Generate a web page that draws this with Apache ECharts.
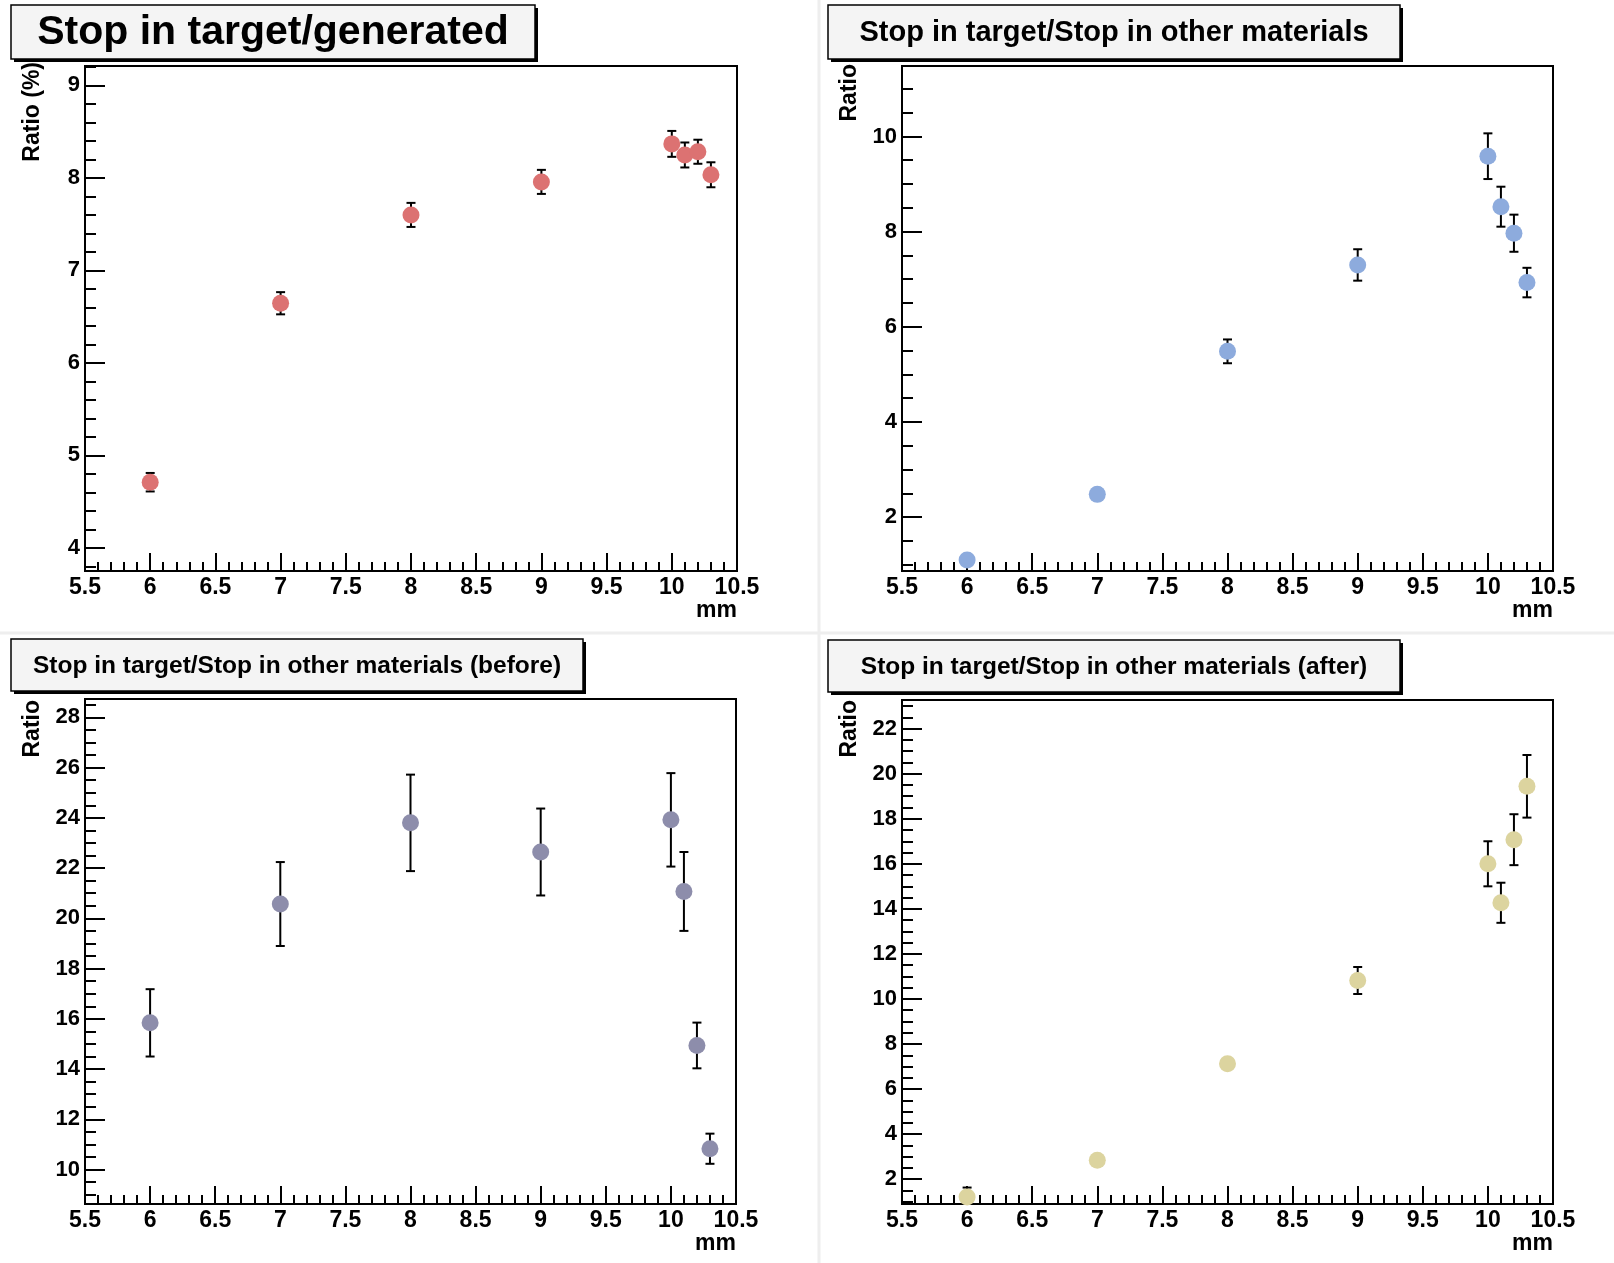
<!DOCTYPE html>
<html>
<head>
<meta charset="utf-8">
<title>Stopping ratios vs. thickness</title>
<script src="https://cdn.jsdelivr.net/npm/echarts@6/dist/echarts.min.js"></script>
<style>
  html, body { margin: 0; padding: 0; background: #ffffff; }
  #main { width: 1614px; height: 1263px; }
</style>
</head>
<body>
<div id="main"></div>
<script>
// ---- data -------------------------------------------------------------
// Thickness (mm) of each measurement
const thicknessMM = [6, 7, 8, 9, 10, 10.1, 10.2, 10.3];

// Stop in target / generated (%)
const ratioGenerated    = [4.71, 6.645, 7.60, 7.957, 8.368, 8.248, 8.283, 8.034];
const ratioGeneratedErr = [0.10, 0.12, 0.13, 0.13, 0.14, 0.135, 0.13, 0.135];

// Stop in target / stop in other materials
const ratioOther    = [1.10, 2.48, 5.485, 7.30, 9.585, 8.524, 7.967, 6.93];
const ratioOtherErr = [0.06, 0.12, 0.25, 0.33, 0.48, 0.42, 0.39, 0.31];

// Stop in target / stop in other materials (before)
const ratioBefore    = [15.84, 20.57, 23.80, 22.64, 23.92, 21.07, 14.94, 10.83];
const ratioBeforeErr = [1.34, 1.67, 1.92, 1.73, 1.86, 1.57, 0.91, 0.60];

// Stop in target / stop in other materials (after)
const ratioAfter    = [1.21, 2.84, 7.13, 10.82, 16.0, 14.27, 17.07, 19.44];
const ratioAfterErr = [0.42, 0.20, 0.20, 0.60, 1.00, 0.89, 1.13, 1.39];

// Labelled y ticks of each pad
const yTicksGenerated = [4, 5, 6, 7, 8, 9];
const yTicksOther     = [2, 4, 6, 8, 10];
const yTicksBefore    = [10, 12, 14, 16, 18, 20, 22, 24, 26, 28];
const yTicksAfter     = [2, 4, 6, 8, 10, 12, 14, 16, 18, 20, 22];

// ---- helpers ----------------------------------------------------------
const FONT = '"Liberation Sans", Arial, Helvetica, sans-serif';

// minor tick positions between lo and hi, skipping the labelled ones
function minorTicks(lo, hi, step, majors) {
  const out = [];
  const n = Math.floor((hi - lo) / step + 1e-6);
  for (let k = 0; k <= n; k++) {
    const v = +(lo + k * step).toFixed(4);
    if (!majors.some(m => Math.abs(m - v) < 1e-6)) out.push(v);
  }
  return out;
}

// vertical error bar with end caps, clipped to the frame
function renderErrorBar(params, api) {
  const x = api.value(0), y = api.value(1), e = api.value(2);
  const top = api.coord([x, y + e]);
  const bot = api.coord([x, y - e]);
  const cs = params.coordSys;
  const yMinPx = cs.y, yMaxPx = cs.y + cs.height;
  const y1 = Math.max(top[1], yMinPx), y2 = Math.min(bot[1], yMaxPx);
  const half = 4.5;
  const style = { stroke: '#000', lineWidth: 2 };
  const children = [
    { type: 'line', shape: { x1: top[0], y1: y1, x2: top[0], y2: y2 }, style: style }
  ];
  if (top[1] >= yMinPx) {
    children.push({ type: 'line', shape: { x1: top[0] - half, y1: top[1], x2: top[0] + half, y2: top[1] }, style: style });
  }
  if (bot[1] <= yMaxPx) {
    children.push({ type: 'line', shape: { x1: bot[0] - half, y1: bot[1], x2: bot[0] + half, y2: bot[1] }, style: style });
  }
  return { type: 'group', children: children };
}

// ---- pads -------------------------------------------------------------
const pads = [
  {
    title: 'Stop in target/generated', titleSize: 41,
    box: { x: 11, y: 5, w: 524, h: 54 },
    yName: 'Ratio (%)', yNameX: 33, yNameTop: 62,
    grid: { left: 85, top: 66, width: 652, height: 505 },
    yMin: 3.75, yMax: 9.21, majors: yTicksGenerated, minorStep: 0.2,
    values: ratioGenerated, errors: ratioGeneratedErr, color: '#dc7272'
  },
  {
    title: 'Stop in target/Stop in other materials', titleSize: 29,
    box: { x: 828, y: 5, w: 572, h: 54 },
    yName: 'Ratio', yNameX: 850, yNameTop: 64,
    grid: { left: 902, top: 66, width: 651, height: 505 },
    yMin: 0.87, yMax: 11.48, majors: yTicksOther, minorStep: 0.5,
    values: ratioOther, errors: ratioOtherErr, color: '#8dabdd'
  },
  {
    title: 'Stop in target/Stop in other materials (before)', titleSize: 24.5,
    box: { x: 11, y: 639, w: 572, h: 52 },
    yName: 'Ratio', yNameX: 33, yNameTop: 700,
    grid: { left: 85, top: 699, width: 651, height: 505 },
    yMin: 8.63, yMax: 28.73, majors: yTicksBefore, minorStep: 0.5,
    values: ratioBefore, errors: ratioBeforeErr, color: '#8d8dab'
  },
  {
    title: 'Stop in target/Stop in other materials (after)', titleSize: 24.5,
    box: { x: 828, y: 640, w: 572, h: 52 },
    yName: 'Ratio', yNameX: 850, yNameTop: 700,
    grid: { left: 902, top: 700, width: 651, height: 504 },
    yMin: 0.9, yMax: 23.27, majors: yTicksAfter, minorStep: 0.5,
    values: ratioAfter, errors: ratioAfterErr, color: '#dcd49f'
  }
];

const axisLineStyle = { color: '#000', width: 2 };
const labelStyle = { color: '#000', fontFamily: FONT, fontWeight: 'bold' };

const grids = [], xAxes = [], yAxes = [], series = [], graphics = [];

// faint pad borders
graphics.push(
  { type: 'line', shape: { x1: 819, y1: 0, x2: 819, y2: 1263 }, style: { stroke: '#eeeeee', lineWidth: 3 }, silent: true },
  { type: 'line', shape: { x1: 0, y1: 633, x2: 1614, y2: 633 }, style: { stroke: '#eeeeee', lineWidth: 3 }, silent: true }
);

pads.forEach((p, i) => {
  grids.push(Object.assign({ show: true, borderColor: '#000', borderWidth: 2, backgroundColor: 'transparent' }, p.grid));

  xAxes.push({
    type: 'value', gridIndex: i, position: 'bottom', min: 5.5, max: 10.5, interval: 0.5,
    axisLine: { show: true, onZero: false, lineStyle: axisLineStyle },
    axisTick: { show: true, inside: true, length: 18, lineStyle: axisLineStyle },
    minorTick: { show: true, splitNumber: 5, length: 9, lineStyle: axisLineStyle },
    splitLine: { show: false }, minorSplitLine: { show: false },
    axisLabel: Object.assign({ fontSize: 23, margin: 5, showMinLabel: true, showMaxLabel: true }, labelStyle)
  });

  // labelled ticks
  yAxes.push({
    type: 'value', gridIndex: i, position: 'left', offset: 0, min: p.yMin, max: p.yMax,
    axisLine: { show: true, onZero: false, lineStyle: axisLineStyle },
    axisTick: { show: true, inside: true, length: 20, lineStyle: axisLineStyle, customValues: p.majors },
    axisLabel: Object.assign({ fontSize: 22, margin: 5, customValues: p.majors }, labelStyle),
    splitLine: { show: false }
  });
  // short unlabelled ticks on the same left edge
  yAxes.push({
    type: 'value', gridIndex: i, position: 'left', offset: 0, min: p.yMin, max: p.yMax,
    axisLine: { show: false, onZero: false },
    axisTick: { show: true, inside: true, length: 11, lineStyle: axisLineStyle,
                customValues: minorTicks(Math.ceil(p.yMin / p.minorStep) * p.minorStep, p.yMax, p.minorStep, p.majors) },
    axisLabel: { show: false },
    splitLine: { show: false }
  });

  const pts = thicknessMM.map((x, k) => [x, p.values[k], p.errors[k]]);

  series.push({
    type: 'custom', xAxisIndex: i, yAxisIndex: 2 * i,
    renderItem: renderErrorBar, data: pts, z: 2, silent: true,
    encode: { x: 0, y: 1 }
  });
  series.push({
    type: 'scatter', xAxisIndex: i, yAxisIndex: 2 * i,
    symbol: 'circle', symbolSize: 17,
    itemStyle: { color: p.color, opacity: 1 },
    data: pts.map(d => [d[0], d[1]]), z: 3, silent: true
  });

  // title box with drop shadow
  const b = p.box;
  graphics.push(
    { type: 'rect', shape: { x: b.x + 3, y: b.y + 3, width: b.w, height: b.h }, style: { fill: '#000' }, silent: true },
    { type: 'rect', shape: { x: b.x, y: b.y, width: b.w, height: b.h }, style: { fill: '#f4f4f4', stroke: '#000', lineWidth: 1.5 }, silent: true },
    { type: 'text', x: b.x + b.w / 2, y: b.y + b.h / 2 + 1,
      style: { text: p.title, fill: '#000', font: 'bold ' + p.titleSize + 'px ' + FONT, textAlign: 'center', textVerticalAlign: 'middle' }, silent: true }
  );

  // axis titles
  graphics.push(
    { type: 'text', x: p.yNameX, y: p.yNameTop, rotation: Math.PI / 2,
      style: { text: p.yName, fill: '#000', font: 'bold 23px ' + FONT, textAlign: 'right', textVerticalAlign: 'middle' }, silent: true },
    { type: 'text', x: p.grid.left + p.grid.width, y: p.grid.top + p.grid.height + 40,
      style: { text: 'mm', fill: '#000', font: 'bold 23px ' + FONT, textAlign: 'right', textVerticalAlign: 'middle' }, silent: true }
  );
});

const chart = echarts.init(document.getElementById('main'), null, { renderer: 'canvas', width: 1614, height: 1263 });
chart.setOption({
  backgroundColor: '#ffffff',
  animation: false,
  grid: grids,
  xAxis: xAxes,
  yAxis: yAxes,
  series: series,
  graphic: graphics
});
</script>
</body>
</html>
